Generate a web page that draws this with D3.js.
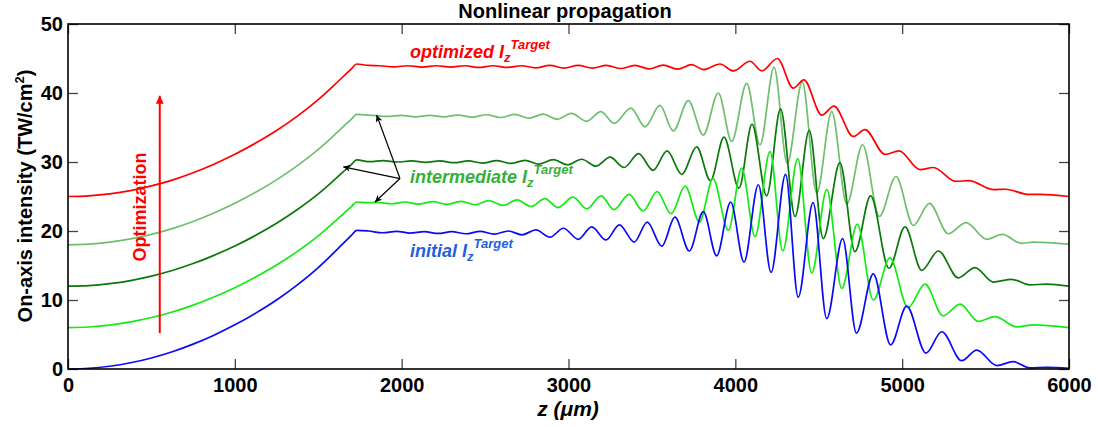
<!DOCTYPE html>
<html><head><meta charset="utf-8">
<script src="https://cdn.jsdelivr.net/npm/d3@7/dist/d3.min.js"></script>
<style>body{margin:0;background:#fff}svg{display:block}text{font-family:"Liberation Sans",Arial,sans-serif;font-weight:bold}</style>
</head><body><svg id="chart" width="1098" height="427"></svg>
<script>
// ---------------- data (z in µm, intensity in TW/cm^2) ----------------
const xTicks = [0, 1000, 2000, 3000, 4000, 5000, 6000];
const yTicks = [0, 10, 20, 30, 40, 50];

const initialSeries = [
[0,0],[125,0.1],[250,0.4],[375,0.9],[500,1.6],[625,2.5],[750,3.6],[875,4.9],[1000,6.4],[1125,8.1],[1250,10.0],[1375,12.2],[1500,14.7],[1600,17.0],[1700,19.4],[1730,20.1],
[1800,20.0],[1885,19.75],[1970,19.95],[2050,19.7],[2135,19.9],[2220,19.65],[2300,19.9],[2385,19.6],[2470,19.95],[2555,19.55],
[2640,20.0],[2720,19.45],[2805,20.15],[2889,19.1],[2969,20.4],[3059,18.8],[3139,20.6],[3225,18.7],[3305,20.9],[3394,18.4],
[3472,21.3],[3559,17.8],[3638,22.0],[3724,17.1],[3808,22.8],[3888,16.4],[3972,24.2],[4052,15.5],[4138,26.7],[4214,14.0],
[4301,28.2],[4377,10.4],[4466,24.1],[4548,7.3],[4643,18.9],[4726,5.2],[4827,13.8],[4931,3.5],[5027,9.1],[5143,2.3],
[5237,5.4],[5357,1.2],[5447,2.75],[5567,0.5],[5664,1.06],[5766,0.15],[5866,0.25],[6000,0.1]
];

const brightSeries = [
[0,6.0],[125,6.09],[250,6.36],[375,6.82],[500,7.46],[625,8.26],[750,9.26],[875,10.44],[1000,11.79],[1125,13.33],[1250,15.06],[1375,17.05],[1500,19.3],[1600,21.4],[1700,23.56],[1730,24.2],
[1790,24.1],[1852,24.15],[1940,23.95],[2020,24.2],[2100,23.9],[2188,24.25],[2270,23.85],[2356,24.3],[2440,23.8],[2523,24.4],
[2607,23.7],[2691,24.5],[2775,23.55],[2859,24.7],[2937,23.4],[3027,24.9],[3111,23.2],[3195,25.1],[3273,23.1],[3363,25.3],
[3447,22.9],[3531,25.7],[3615,22.5],[3699,26.5],[3785,21.3],[3866,27.6],[3958,20.1],[4038,29.1],[4118,19.2],[4208,31.5],
[4284,17.1],[4374,30.5],[4458,13.9],[4548,26.0],[4638,11.7],[4731,21.0],[4827,10.0],[4927,16.1],[5035,8.9],[5137,12.3],
[5245,7.7],[5347,9.4],[5456,6.9],[5556,7.6],[5687,6.1],[5786,6.4],[6000,6.0]
];

const darkSeries = [
[0,12.0],[125,12.09],[250,12.37],[375,12.82],[500,13.46],[625,14.27],[750,15.28],[875,16.47],[1000,17.82],[1125,19.37],[1250,21.11],[1375,23.11],[1500,25.38],[1600,27.48],[1700,29.66],[1730,30.3],
[1810,30.05],[1889,30.2],[1974,30.0],[2059,30.15],[2144,29.95],[2229,30.15],[2314,29.9],[2399,30.15],[2484,29.85],[2569,30.2],
[2654,29.8],[2739,30.25],[2824,29.7],[2909,30.35],[2994,29.6],[3079,30.4],[3165,29.4],[3249,30.7],[3333,29.2],[3420,31.2],
[3507,28.8],[3591,31.6],[3679,28.2],[3768,32.2],[3851,27.3],[3932,33.6],[4022,26.2],[4100,35.5],[4188,25.1],[4271,37.7],
[4358,22.1],[4443,34.6],[4527,18.9],[4627,29.9],[4717,17.0],[4811,25.1],[4921,14.6],[5017,20.6],[5117,14.3],[5217,17.1],
[5336,13.2],[5437,14.7],[5546,12.6],[5656,13.0],[5766,12.2],[5866,12.3],[6000,12.0]
];

const lightSeries = [
[0,18.0],[125,18.09],[250,18.38],[375,18.85],[500,19.51],[625,20.34],[750,21.38],[875,22.61],[1000,24.01],[1125,25.62],[1250,27.41],[1375,29.47],[1500,31.82],[1600,33.99],[1700,36.24],[1730,36.9],
[1828,36.75],[1913,36.6],[1998,36.75],[2083,36.55],[2168,36.75],[2253,36.55],[2338,36.8],[2423,36.5],[2508,36.85],[2593,36.45],
[2678,36.9],[2763,36.35],[2848,36.95],[2933,36.2],[3018,37.05],[3109,35.9],[3194,37.3],[3274,35.6],[3374,37.8],[3459,35.1],
[3548,38.2],[3628,34.5],[3718,38.9],[3808,33.9],[3898,40.0],[3978,33.0],[4068,41.4],[4148,32.5],[4232,43.7],[4311,29.8],
[4401,41.6],[4488,25.5],[4578,37.3],[4668,23.9],[4763,32.5],[4863,22.1],[4963,27.9],[5067,20.8],[5163,24.0],[5277,19.6],
[5383,21.2],[5507,18.8],[5600,19.5],[5716,18.2],[5786,18.4],[6000,18.1]
];

const optimizedSeries = [
[0,25.0],[125,25.1],[250,25.38],[375,25.86],[500,26.54],[625,27.38],[750,28.44],[875,29.68],[1000,31.11],[1125,32.74],[1250,34.56],[1375,36.65],[1500,39.04],[1600,41.24],[1700,43.53],[1730,44.2],
[1800,44.0],[1868,43.95],[1953,43.8],[2038,43.95],[2123,43.75],[2208,43.95],[2293,43.75],[2378,43.95],[2463,43.7],[2548,43.95],
[2633,43.7],[2718,43.95],[2803,43.65],[2888,44.0],[2973,43.6],[3058,44.0],[3143,43.6],[3228,44.0],[3313,43.55],[3398,44.0],
[3483,43.5],[3568,44.05],[3653,43.45],[3738,44.1],[3810,43.4],[3908,44.2],[3988,43.2],[4088,44.6],[4158,43.2],[4252,45.0],
[4347,40.7],[4411,41.9],[4518,36.8],[4591,38.1],[4707,33.7],[4777,34.7],[4897,31.1],[4981,31.6],[5107,28.9],[5187,29.2],
[5320,27.2],[5400,27.3],[5545,26.0],[5620,26.05],[5760,25.3],[5830,25.3],[6000,25.0]
];

const seriesList = [
  {name:"intermediate (light)", data: lightSeries,   color:"#6fbf6f"},
  {name:"intermediate (dark)",  data: darkSeries,    color:"#0a780a"},
  {name:"intermediate (bright)",data: brightSeries,  color:"#14ea14"},
  {name:"initial",              data: initialSeries, color:"#0a0af5"},
  {name:"optimized",            data: optimizedSeries, color:"#ff0000"}
];

// annotation anchors (data coordinates)
const optArrow = {z:550, from:5.2, to:39.6};
const pointerOrigin = [1990, 27.6];
const pointerTargets = [[1850, 36.8], [1650, 29.3], [1840, 24.2]];

// ---------------- drawing ----------------
const m = {left:68, right:1069, top:24, bottom:369};
const svg = d3.select("#chart");

const x = d3.scaleLinear().domain([0, 6000]).range([m.left, m.right]);
const y = d3.scaleLinear().domain([0, 50]).range([m.bottom, m.top]);

svg.append("defs").append("clipPath").attr("id","clip")
  .append("rect").attr("x",m.left).attr("y",m.top).attr("width",m.right-m.left).attr("height",m.bottom-m.top);

const line = d3.line().x(d=>x(d[0])).y(d=>y(d[1])).curve(d3.curveMonotoneX);

const g = svg.append("g").attr("clip-path","url(#clip)");
seriesList.forEach(s => {
  g.append("path").datum(s.data).attr("d", line)
    .attr("fill","none").attr("stroke", s.color).attr("stroke-width",1.7)
    .attr("stroke-linejoin","round");
});

// axes (ticks inward, mirrored on top/right)
const tickLen = 10;
const axB = svg.append("g").attr("transform",`translate(0,${m.bottom})`)
  .call(d3.axisBottom(x).tickValues(xTicks).tickSize(-tickLen).tickPadding(14).tickFormat(d3.format("d")));
const axT = svg.append("g").attr("transform",`translate(0,${m.top})`)
  .call(d3.axisTop(x).tickValues(xTicks).tickSize(-tickLen).tickFormat(""));
const axL = svg.append("g").attr("transform",`translate(${m.left},0)`)
  .call(d3.axisLeft(y).tickValues(yTicks).tickSize(-tickLen).tickPadding(5).tickFormat(d3.format("d")));
const axR = svg.append("g").attr("transform",`translate(${m.right},0)`)
  .call(d3.axisRight(y).tickValues(yTicks).tickSize(-tickLen).tickFormat(""));
[axB,axT,axL,axR].forEach(a=>{
  a.select(".domain").remove();
  a.selectAll(".tick line").attr("stroke","#444").attr("stroke-width",1.3);
  a.selectAll(".tick text").attr("font-size",20).attr("font-weight","bold").attr("fill","#000")
    .attr("font-family",'"Liberation Sans",Arial,sans-serif');
});
axB.selectAll(".tick text").attr("dy","0.71em").attr("y",9);
axL.selectAll(".tick text").attr("x",-5);

svg.append("rect").attr("x",m.left).attr("y",m.top).attr("width",m.right-m.left).attr("height",m.bottom-m.top)
  .attr("fill","none").attr("stroke","#000").attr("stroke-width",1.6);

// titles
svg.append("text").attr("x",565).attr("y",18).attr("text-anchor","middle").attr("font-size",20)
  .text("Nonlinear propagation");
svg.append("text").attr("x",568).attr("y",416).attr("text-anchor","middle").attr("font-size",21)
  .attr("font-style","italic").text("z (μm)");
const yl = svg.append("text").attr("transform","translate(32,196) rotate(-90)").attr("text-anchor","middle").attr("font-size",20);
yl.append("tspan").text("On-axis intensity (TW/cm");
yl.append("tspan").attr("font-size",13).attr("dy",-8).text("2");
yl.append("tspan").attr("dy",8).text(")");

// optimization arrow
svg.append("defs").append("marker").attr("id","redhead").attr("viewBox","0 0 10 10").attr("refX",10).attr("refY",5)
  .attr("markerWidth",16).attr("markerHeight",8).attr("markerUnits","userSpaceOnUse").attr("orient","auto")
  .append("path").attr("d","M0,0 L10,5 L0,10 Z").attr("fill","#ff0000");
svg.append("line").attr("x1",x(optArrow.z)).attr("x2",x(optArrow.z)).attr("y1",y(optArrow.from)).attr("y2",y(optArrow.to))
  .attr("stroke","#ff0000").attr("stroke-width",2).attr("marker-end","url(#redhead)");
svg.append("text").attr("transform",`translate(146,207) rotate(-90)`).attr("text-anchor","middle")
  .attr("font-size",18).attr("fill","#ff0000").text("Optimization");

// pointer arrows
svg.append("defs").append("marker").attr("id","blackhead").attr("viewBox","0 0 10 10").attr("refX",10).attr("refY",5)
  .attr("markerWidth",10).attr("markerHeight",7).attr("markerUnits","userSpaceOnUse").attr("orient","auto")
  .append("path").attr("d","M0,0 L10,5 L0,10 L3,5 Z").attr("fill","#000");
pointerTargets.forEach(t=>{
  svg.append("line").attr("x1",x(pointerOrigin[0])).attr("y1",y(pointerOrigin[1]))
    .attr("x2",x(t[0])).attr("y2",y(t[1])).attr("stroke","#000").attr("stroke-width",1.2)
    .attr("marker-end","url(#blackhead)");
});

// labels
function targetLabel(px, py, word, color){
  const t = svg.append("text").attr("x",px).attr("y",py).attr("font-size",18).attr("font-style","italic").attr("fill",color);
  t.append("tspan").text(word + " I");
  t.append("tspan").attr("font-size",13).attr("dy",4).text("z");
  t.append("tspan").attr("font-size",13).attr("dy",-13).text("Target");
}
targetLabel(410, 58, "optimized", "#ff0000");
targetLabel(410, 183, "intermediate", "#36b036");
targetLabel(410, 257, "initial", "#1f5fe0");
</script></body></html>
